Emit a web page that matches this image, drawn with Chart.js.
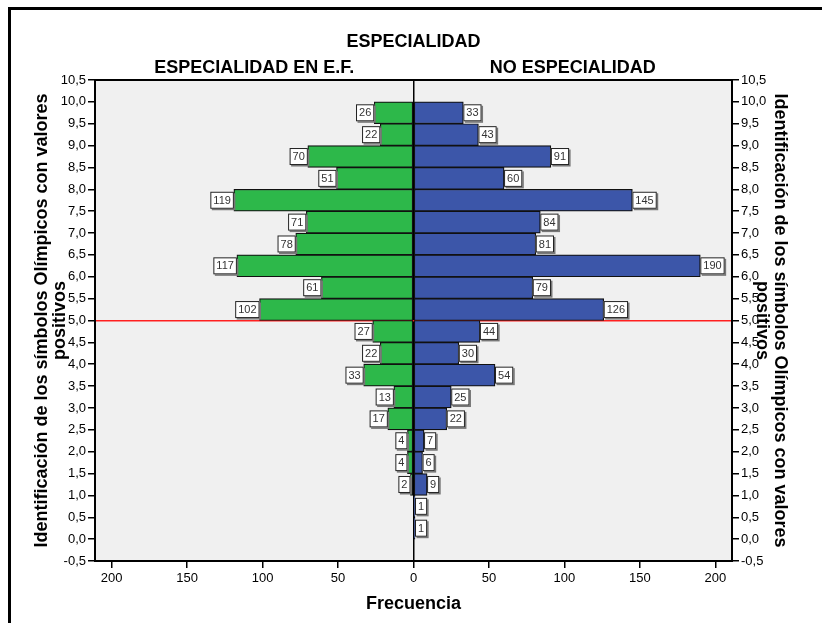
<!DOCTYPE html>
<html>
<head>
<meta charset="utf-8">
<title>ESPECIALIDAD</title>
<script src="https://cdn.jsdelivr.net/npm/chart.js@4/dist/chart.umd.min.js"></script>
<style>
    html, body { margin: 0; padding: 0; background: #fff; }
    canvas { display: block; }
</style>
</head>
<body>
<canvas id="pyramid" width="822" height="623"></canvas>
<script>
// Bin midpoints (score intervals of 0.5) and frequencies per group
const bins = [0.25, 0.75, 1.25, 1.75, 2.25, 2.75, 3.25, 3.75, 4.25, 4.75,
              5.25, 5.75, 6.25, 6.75, 7.25, 7.75, 8.25, 8.75, 9.25, 9.75];
const especialidadEF = [0, 0, 2, 4, 4, 17, 13, 33, 22, 27,
                        102, 61, 117, 78, 71, 119, 51, 70, 22, 26];
const noEspecialidad = [1, 1, 9, 6, 7, 22, 25, 54, 30, 44,
                        126, 79, 190, 81, 84, 145, 60, 91, 43, 33];

const yTicks = [-0.5, 0, 0.5, 1, 1.5, 2, 2.5, 3, 3.5, 4, 4.5, 5,
                5.5, 6, 6.5, 7, 7.5, 8, 8.5, 9, 9.5, 10, 10.5];
const xTicks = [-200, -150, -100, -50, 0, 50, 100, 150, 200];
const cutLine = 5;

const mainTitle = 'ESPECIALIDAD';
const groupTitles = ['ESPECIALIDAD EN E.F.', 'NO ESPECIALIDAD'];
const yTitle = ['Identificación de los símbolos Olímpicos con valores', 'positivos'];
const xTitle = 'Frecuencia';

const FONT = '"Liberation Sans", Arial, Helvetica, sans-serif';
Chart.defaults.font.family = FONT;
Chart.defaults.color = '#000';

const yLabel = v => v.toFixed(1).replace('.', ',');

// background, outer frame, headings and the plot frame
const decor = {
    id: 'decor',
    beforeDraw(chart) {
        const { ctx, chartArea: a } = chart;
        ctx.save();
        ctx.fillStyle = '#fff';
        ctx.fillRect(0, 0, chart.width, chart.height);
        ctx.fillStyle = '#000';
        ctx.fillRect(8, 7, 3, chart.height);
        ctx.fillRect(8, 7, chart.width, 3);
        ctx.fillStyle = '#f0f0f0';
        ctx.fillRect(a.left, a.top, a.right - a.left, a.bottom - a.top);
        ctx.restore();
    },
    afterDraw(chart) {
        const { ctx, chartArea: a } = chart;
        const zero = chart.scales.x.getPixelForValue(0);
        ctx.save();
        ctx.strokeStyle = '#000';
        ctx.lineWidth = 2;
        ctx.strokeRect(a.left, a.top, a.right - a.left, a.bottom - a.top);
        ctx.fillStyle = '#000';
        ctx.font = 'bold 18px ' + FONT;
        ctx.textAlign = 'center';
        ctx.textBaseline = 'middle';
        ctx.fillText(mainTitle, zero, 42);
        ctx.fillText(groupTitles[0], (a.left + zero) / 2, 68);
        ctx.fillText(groupTitles[1], (zero + a.right) / 2, 68);
        ctx.restore();
    }
};

// white value boxes at the end of each bar
const valueBoxes = {
    id: 'valueBoxes',
    afterDatasetsDraw(chart) {
        const { ctx } = chart;
        ctx.save();
        ctx.font = '11px ' + FONT;
        ctx.textBaseline = 'middle';
        ctx.textAlign = 'center';
        chart.data.datasets.forEach((ds, di) => {
            const meta = chart.getDatasetMeta(di);
            const values = di === 0 ? especialidadEF : noEspecialidad;
            meta.data.forEach((bar, i) => {
                const v = values[i];
                if (!v) return;
                const txt = String(v);
                const w = ctx.measureText(txt).width + 6;
                const h = 17;
                const x = di === 0 ? bar.x - w : bar.x;
                const y = bar.y - h / 2;
                ctx.fillStyle = '#777';
                ctx.fillRect(x + 1.5, y + 1.5, w, h);
                ctx.fillStyle = '#fff';
                ctx.fillRect(x, y, w, h);
                ctx.strokeStyle = '#222';
                ctx.lineWidth = 1;
                ctx.strokeRect(x + 0.5, y + 0.5, w - 1, h - 1);
                ctx.fillStyle = '#333';
                ctx.fillText(txt, x + w / 2, bar.y + 0.5);
            });
        });
        ctx.restore();
    }
};

const yAxis = (position) => ({
    type: 'linear',
    position: position,
    min: -0.5,
    max: 10.5,
    offset: false,
    afterBuildTicks: s => { s.ticks = yTicks.map(v => ({ value: v })); },
    afterFit: s => { s.width = position === 'left' ? 95 : 90; },
    ticks: {
        callback: v => yLabel(v),
        font: { size: 13 },
        color: '#000',
        padding: 2,
        autoSkip: false
    },
    grid: {
        offset: false,
        drawOnChartArea: position === 'left',
        color: c => (c.tick && c.tick.value === cutLine) ? '#ff2020' : 'rgba(0,0,0,0)',
        lineWidth: 1.5,
        tickColor: '#000',
        tickLength: 7,
        tickWidth: 1.5
    },
    border: { display: false },
    title: {
        display: true,
        text: yTitle,
        font: { size: 18, weight: 'bold', lineHeight: 1 },
        color: '#000',
        padding: { top: 33, bottom: 0 }
    }
});

new Chart(document.getElementById('pyramid'), {
    type: 'bar',
    data: {
        datasets: [
            {
                label: groupTitles[0],
                data: bins.map((b, i) => ({ y: b, x: -especialidadEF[i] })),
                backgroundColor: '#2db84a',
                borderColor: '#111',
                borderWidth: 1.2,
                borderSkipped: false,
                grouped: false,
                barPercentage: 1,
                categoryPercentage: 1
            },
            {
                label: groupTitles[1],
                data: bins.map((b, i) => ({ y: b, x: noEspecialidad[i] })),
                backgroundColor: '#3c56a9',
                borderColor: '#111',
                borderWidth: 1.2,
                borderSkipped: false,
                grouped: false,
                barPercentage: 1,
                categoryPercentage: 1
            }
        ]
    },
    options: {
        indexAxis: 'y',
        responsive: false,
        devicePixelRatio: 1,
        animation: false,
        layout: { padding: { top: 80, left: 0, right: 0, bottom: 0 } },
        plugins: {
            legend: { display: false },
            tooltip: { enabled: false }
        },
        scales: {
            x: {
                type: 'linear',
                position: 'bottom',
                min: -211,
                max: 211,
                afterBuildTicks: s => { s.ticks = xTicks.map(v => ({ value: v })); },
                afterFit: s => { s.height = 62; },
                ticks: {
                    callback: v => Math.abs(v),
                    font: { size: 13 },
                    color: '#000',
                    padding: 3
                },
                grid: {
                    color: c => (c.tick && c.tick.value === 0) ? '#000' : 'rgba(0,0,0,0)',
                    lineWidth: 1.5,
                    tickColor: '#000',
                    tickLength: 7,
                    tickWidth: 1.5
                },
                border: { display: false },
                title: {
                    display: true,
                    text: xTitle,
                    font: { size: 18, weight: 'bold', lineHeight: 1 },
                    color: '#000',
                    padding: { top: 0, bottom: 10 }
                }
            },
            y: yAxis('left'),
            y2: yAxis('right')
        }
    },
    plugins: [decor, valueBoxes]
});
</script>
</body>
</html>
